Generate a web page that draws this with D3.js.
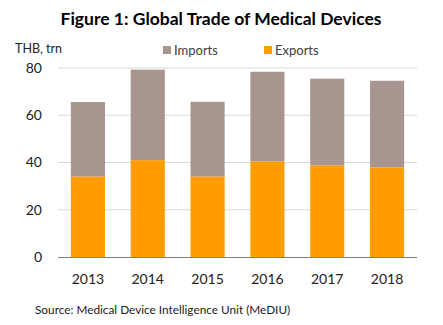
<!DOCTYPE html>
<html>
<head>
<meta charset="utf-8">
<script src="https://cdn.jsdelivr.net/npm/d3@7"></script>
<style>
  body { margin: 0; background: #fff; }
  text { font-family: Lato, "Open Sans", sans-serif; fill: #222; }
</style>
</head>
<body>
<div id="chart"></div>
<script>
const years = ['2013', '2014', '2015', '2016', '2017', '2018'];
const exportsVals = [34.1, 41.0, 34.1, 40.5, 38.8, 37.9];
const importsVals = [31.5, 38.3, 31.6, 37.9, 36.7, 36.7];
const yTicks = [0, 20, 40, 60, 80];

const config = {
    WIDTH: 443,
    HEIGHT: 325,
    LEFT: 58,
    RIGHT: 417,
    TOP: 68,
    BOTTOM: 257,
    IMPORT_COLOR: '#a8958f',
    EXPORT_COLOR: '#ff9c00',
}

const svg = d3.select('#chart')
    .append('svg')
    .attr('width', config.WIDTH)
    .attr('height', config.HEIGHT);

const x = d3.scaleBand()
    .domain(years)
    .range([config.LEFT, config.RIGHT])
    .paddingInner(0.43)
    .paddingOuter(0.215);

const y = d3.scaleLinear()
    .domain([0, 80])
    .range([config.BOTTOM, config.TOP]);

// Horizontal gridlines
svg.append('g')
    .selectAll('line')
    .data(yTicks.filter(d => d > 0))
    .join('line')
    .attr('x1', config.LEFT)
    .attr('x2', config.RIGHT)
    .attr('y1', d => y(d))
    .attr('y2', d => y(d))
    .attr('stroke', '#d9d9d9')
    .attr('stroke-width', 1);

// Y tick labels
svg.append('g')
    .selectAll('text')
    .data(yTicks)
    .join('text')
    .attr('x', 42)
    .attr('y', d => y(d))
    .attr('dy', '0.35em')
    .attr('text-anchor', 'end')
    .style('font-size', '14px')
    .text(d => d);

// Stacked bars: exports at the bottom, imports on top
const stackData = years.map((yr, i) => ({ year: yr, exports: exportsVals[i], imports: importsVals[i] }));
const series = d3.stack().keys(['exports', 'imports'])(stackData);
const colors = { exports: config.EXPORT_COLOR, imports: config.IMPORT_COLOR };

svg.append('g')
    .selectAll('g')
    .data(series)
    .join('g')
    .attr('fill', s => colors[s.key])
    .selectAll('rect')
    .data(s => s)
    .join('rect')
    .attr('x', d => x(d.data.year))
    .attr('width', x.bandwidth())
    .attr('y', d => y(d[1]))
    .attr('height', d => y(d[0]) - y(d[1]));

// Baseline
svg.append('line')
    .attr('x1', config.LEFT)
    .attr('x2', config.RIGHT)
    .attr('y1', y(0) + 0.5)
    .attr('y2', y(0) + 0.5)
    .attr('stroke', '#7f7f7f')
    .attr('stroke-width', 1);

// X labels
svg.append('g')
    .selectAll('text')
    .data(years)
    .join('text')
    .attr('x', d => x(d) + x.bandwidth() / 2)
    .attr('y', 279)
    .attr('dy', '0.35em')
    .attr('text-anchor', 'middle')
    .style('font-size', '14px')
    .text(d => d);

// Title
svg.append('text')
    .attr('x', 221)
    .attr('y', 19)
    .attr('dy', '0.35em')
    .attr('text-anchor', 'middle')
    .style('font-size', '17.5px')
    .style('font-weight', 'bold')
    .style('fill', '#000')
    .text('Figure 1: Global Trade of Medical Devices');

// Unit label
svg.append('text')
    .attr('x', 15)
    .attr('y', 49)
    .attr('dy', '0.35em')
    .style('font-size', '12.5px')
    .text('THB, trn');

// Legend
const legend = [
    { label: 'Imports', color: config.IMPORT_COLOR, x: 163 },
    { label: 'Exports', color: config.EXPORT_COLOR, x: 264 },
];
const lg = svg.append('g')
    .selectAll('g')
    .data(legend)
    .join('g')
    .attr('transform', d => `translate(${d.x}, 50)`);
lg.append('rect')
    .attr('y', -4)
    .attr('width', 8)
    .attr('height', 8)
    .attr('fill', d => d.color);
lg.append('text')
    .attr('x', 11)
    .attr('dy', '0.35em')
    .style('font-size', '13px')
    .style('fill', '#404040')
    .text(d => d.label);

// Source note
svg.append('text')
    .attr('x', 35)
    .attr('y', 310)
    .attr('dy', '0.35em')
    .style('font-size', '11.8px')
    .text('Source: Medical Device Intelligence Unit (MeDIU)');
</script>
</body>
</html>
